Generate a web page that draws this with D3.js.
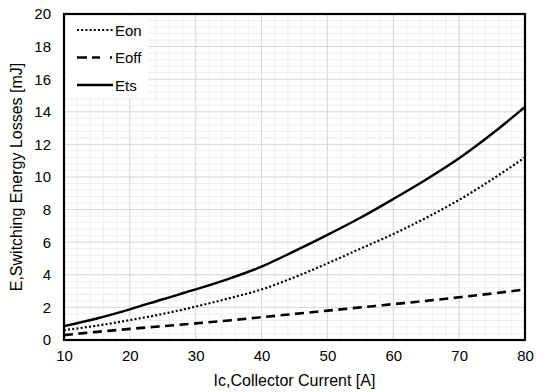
<!DOCTYPE html>
<html>
<head>
<meta charset="utf-8">
<script src="https://cdn.jsdelivr.net/npm/d3@7"></script>
<style>
  html, body { margin: 0; padding: 0; background: #fff; }
  svg { display: block; font-family: "Liberation Sans", Arial, sans-serif; }
</style>
</head>
<body>
<svg id="chart" width="556" height="392"></svg>
<script>
// Collector current (A) and switching energies (mJ)
const current = [10, 15, 20, 25, 30, 35, 40, 45, 50, 55, 60, 65, 70, 75, 80];
const eon  = [0.6, 0.88, 1.22, 1.6, 2.05, 2.55, 3.1, 3.85, 4.7, 5.6, 6.5, 7.5, 8.6, 9.85, 11.2];
const eoff = [0.3, 0.5, 0.68, 0.85, 1.02, 1.2, 1.4, 1.6, 1.8, 2.0, 2.2, 2.4, 2.62, 2.85, 3.1];
const ets  = [0.85, 1.32, 1.88, 2.5, 3.1, 3.75, 4.5, 5.45, 6.45, 7.5, 8.65, 9.85, 11.15, 12.65, 14.3];

const xTicks = [10, 20, 30, 40, 50, 60, 70, 80];
const yTicks = [0, 2, 4, 6, 8, 10, 12, 14, 16, 18, 20];
const seriesNames = ["Eon", "Eoff", "Ets"];

const svg = d3.select("#chart");
const margin = { left: 64, right: 31, top: 14, bottom: 52 };
const W = 556, H = 392;
const FONT = "Liberation Sans, Arial, sans-serif";

const x = d3.scaleLinear().domain([10, 80]).range([margin.left, W - margin.right]);
const y = d3.scaleLinear().domain([0, 20]).range([H - margin.bottom, margin.top]);

// minor grid
const minorX = d3.range(10, 80.001, 2);
const minorY = d3.range(0, 20.001, 0.4);
const grid = svg.append("g");
grid.selectAll(".mx").data(minorX).join("line")
  .attr("x1", d => x(d)).attr("x2", d => x(d))
  .attr("y1", y(0)).attr("y2", y(20))
  .attr("stroke", "#efefef").attr("stroke-width", 1);
grid.selectAll(".my").data(minorY).join("line")
  .attr("y1", d => y(d)).attr("y2", d => y(d))
  .attr("x1", x(10)).attr("x2", x(80))
  .attr("stroke", "#efefef").attr("stroke-width", 1);
// major grid
grid.selectAll(".Mx").data(xTicks).join("line")
  .attr("x1", d => x(d)).attr("x2", d => x(d))
  .attr("y1", y(0)).attr("y2", y(20))
  .attr("stroke", "#d9d9d9").attr("stroke-width", 1);
grid.selectAll(".My").data(yTicks).join("line")
  .attr("y1", d => y(d)).attr("y2", d => y(d))
  .attr("x1", x(10)).attr("x2", x(80))
  .attr("stroke", "#d9d9d9").attr("stroke-width", 1);

// series
const line = d3.line()
  .x((d, i) => x(current[i]))
  .y(d => y(d))
  .curve(d3.curveCatmullRom.alpha(0.5));

const styles = {
  Eon:  { dash: "2,2.2", width: 2.2, legendDash: "2,2.2" },
  Eoff: { dash: "9,5.5", width: 2.6, legendDash: "10,5,8,10,2,20" },
  Ets:  { dash: null, width: 2.4, legendDash: null }
};
const values = { Eon: eon, Eoff: eoff, Ets: ets };

seriesNames.forEach(name => {
  svg.append("path")
    .datum(values[name])
    .attr("d", line)
    .attr("fill", "none")
    .attr("stroke", "#000")
    .attr("stroke-width", styles[name].width)
    .attr("stroke-dasharray", styles[name].dash);
});

// plot frame
svg.append("rect")
  .attr("x", x(10)).attr("y", y(20))
  .attr("width", x(80) - x(10)).attr("height", y(0) - y(20))
  .attr("fill", "none").attr("stroke", "#000").attr("stroke-width", 2.2);

// axes (labels only, no tick marks)
const xAxis = d3.axisBottom(x).tickValues(xTicks).tickSize(0).tickPadding(10).tickFormat(d3.format("d"));
const gx = svg.append("g").attr("transform", `translate(0,${y(0)})`).call(xAxis);
gx.select(".domain").remove();
gx.selectAll("text").attr("font-size", 15).attr("fill", "#000").attr("font-family", FONT);

const yAxis = d3.axisLeft(y).tickValues(yTicks).tickSize(0).tickPadding(13).tickFormat(d3.format("d"));
const gy = svg.append("g").attr("transform", `translate(${x(10)},0)`).call(yAxis);
gy.select(".domain").remove();
gy.selectAll("text").attr("font-size", 15).attr("fill", "#000").attr("font-family", FONT);

// axis titles
svg.append("text")
  .attr("x", (x(10) + x(80)) / 2).attr("y", 386)
  .attr("text-anchor", "middle").attr("font-size", 16).attr("fill", "#000")
  .text("Ic,Collector Current [A]");
svg.append("text")
  .attr("transform", `translate(22,${(y(0) + y(20)) / 2}) rotate(-90)`)
  .attr("text-anchor", "middle").attr("font-size", 16).attr("fill", "#000")
  .text("E,Switching Energy Losses [mJ]");

// legend
const lg = svg.append("g");
lg.append("rect").attr("x", x(10) + 2).attr("y", y(20) + 2)
  .attr("width", 82).attr("height", 82).attr("fill", "#fff");
seriesNames.forEach((name, i) => {
  const ly = 30 + i * 27.5;
  lg.append("line")
    .attr("x1", 77).attr("x2", 113).attr("y1", ly).attr("y2", ly)
    .attr("stroke", "#000")
    .attr("stroke-width", styles[name].width)
    .attr("stroke-dasharray", styles[name].legendDash);
  lg.append("text")
    .attr("x", 115).attr("y", ly + 5.5)
    .attr("font-size", 15).attr("fill", "#000")
    .text(name);
});
</script>
</body>
</html>
